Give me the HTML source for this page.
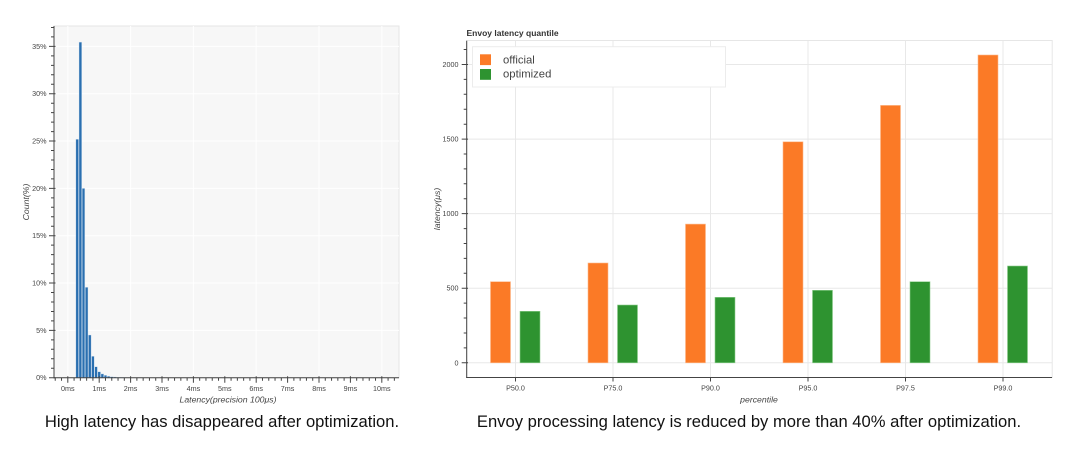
<!DOCTYPE html>
<html><head><meta charset="utf-8">
<style>
html,body{margin:0;padding:0;background:#fff;}
svg{display:block;}
text{font-family:"Liberation Sans",Arial,sans-serif;}
</style></head>
<body>
<svg width="1080" height="458" viewBox="0 0 1080 458" xmlns="http://www.w3.org/2000/svg">
<rect width="1080" height="458" fill="#fff"/>

<!-- ============ LEFT CHART ============ -->
<rect x="54" y="26" width="345" height="351.7" fill="#f7f7f7" stroke="#e6e6e6" stroke-width="1"/>
<!-- grid -->
<g stroke="#ffffff" stroke-width="1">
  <line x1="54" x2="399" y1="330.37" y2="330.37"/>
  <line x1="54" x2="399" y1="283.04" y2="283.04"/>
  <line x1="54" x2="399" y1="235.71" y2="235.71"/>
  <line x1="54" x2="399" y1="188.38" y2="188.38"/>
  <line x1="54" x2="399" y1="141.05" y2="141.05"/>
  <line x1="54" x2="399" y1="93.72" y2="93.72"/>
  <line x1="54" x2="399" y1="46.39" y2="46.39"/>
  <line x1="67.8" x2="67.8" y1="26" y2="377.7"/>
  <line x1="130.6" x2="130.6" y1="26" y2="377.7"/>
  <line x1="193.4" x2="193.4" y1="26" y2="377.7"/>
  <line x1="256.2" x2="256.2" y1="26" y2="377.7"/>
  <line x1="319" x2="319" y1="26" y2="377.7"/>
  <line x1="381.8" x2="381.8" y1="26" y2="377.7"/>
</g>
<!-- bars -->
<g fill="#2a6fb0" stroke="#d6e4f2" stroke-width="0.4">
  <rect x="75.87" y="139.2" width="2.7" height="238.5"/>
  <rect x="79.01" y="42.1" width="2.7" height="335.6"/>
  <rect x="82.15" y="188.4" width="2.7" height="189.3"/>
  <rect x="85.29" y="287.3" width="2.7" height="90.4"/>
  <rect x="88.43" y="335.0" width="2.7" height="42.7"/>
  <rect x="91.57" y="356.3" width="2.7" height="21.4"/>
  <rect x="94.71" y="366.7" width="2.7" height="11.0"/>
  <rect x="97.85" y="371.7" width="2.7" height="6.0"/>
  <rect x="100.99" y="373.9" width="2.7" height="3.8"/>
  <rect x="104.13" y="375.3" width="2.7" height="2.4"/>
  <rect x="107.27" y="376.2" width="2.7" height="1.5"/>
  <rect x="110.41" y="376.7" width="2.7" height="1.0"/>
  <rect x="113.55" y="377.0" width="2.7" height="0.7"/>
  <rect x="116.69" y="377.2" width="2.7" height="0.5"/>
  <rect x="119.83" y="377.35" width="2.7" height="0.35"/>
  <rect x="122.97" y="377.45" width="2.7" height="0.25"/>
</g>
<!-- axes -->
<g stroke="#444" stroke-width="1" fill="none">
  <line x1="54" y1="26" x2="54" y2="378.2"/>
  <line x1="53.5" y1="377.7" x2="399" y2="377.7"/>
  <!-- y major ticks -->
  <path d="M49 377.7H55.5M49 330.37H55.5M49 283.04H55.5M49 235.71H55.5M49 188.38H55.5M49 141.05H55.5M49 93.72H55.5M49 46.39H55.5"/>
  <!-- y minor ticks -->
  <path d="M51 368.23H54M51 358.77H54M51 349.3H54M51 339.84H54M51 320.9H54M51 311.44H54M51 301.97H54M51 292.51H54M51 273.57H54M51 264.11H54M51 254.64H54M51 245.18H54M51 226.24H54M51 216.78H54M51 207.31H54M51 197.85H54M51 178.91H54M51 169.45H54M51 159.98H54M51 150.52H54M51 131.58H54M51 122.12H54M51 112.65H54M51 103.19H54M51 84.25H54M51 74.79H54M51 65.32H54M51 55.86H54M51 36.92H54M51 27.46H54"/>
  <!-- x major ticks -->
  <path d="M67.8 376.2V382.7M99.2 376.2V382.7M130.6 376.2V382.7M162 376.2V382.7M193.4 376.2V382.7M224.8 376.2V382.7M256.2 376.2V382.7M287.6 376.2V382.7M319 376.2V382.7M350.4 376.2V382.7M381.8 376.2V382.7"/>
  <!-- x minor ticks -->
  <path d="M55.24 377.7V380.7M61.52 377.7V380.7M74.08 377.7V380.7M80.36 377.7V380.7M86.64 377.7V380.7M92.92 377.7V380.7M105.48 377.7V380.7M111.76 377.7V380.7M118.04 377.7V380.7M124.32 377.7V380.7M136.88 377.7V380.7M143.16 377.7V380.7M149.44 377.7V380.7M155.72 377.7V380.7M168.28 377.7V380.7M174.56 377.7V380.7M180.84 377.7V380.7M187.12 377.7V380.7M199.68 377.7V380.7M205.96 377.7V380.7M212.24 377.7V380.7M218.52 377.7V380.7M231.08 377.7V380.7M237.36 377.7V380.7M243.64 377.7V380.7M249.92 377.7V380.7M262.48 377.7V380.7M268.76 377.7V380.7M275.04 377.7V380.7M281.32 377.7V380.7M293.88 377.7V380.7M300.16 377.7V380.7M306.44 377.7V380.7M312.72 377.7V380.7M325.28 377.7V380.7M331.56 377.7V380.7M337.84 377.7V380.7M344.12 377.7V380.7M356.68 377.7V380.7M362.96 377.7V380.7M369.24 377.7V380.7M375.52 377.7V380.7M388.08 377.7V380.7M394.36 377.7V380.7"/>
</g>
<!-- y tick labels -->
<g font-size="7.2" fill="#444" text-anchor="end">
  <text x="46.5" y="380.2">0%</text>
  <text x="46.5" y="332.9">5%</text>
  <text x="46.5" y="285.5">10%</text>
  <text x="46.5" y="238.2">15%</text>
  <text x="46.5" y="190.9">20%</text>
  <text x="46.5" y="143.5">25%</text>
  <text x="46.5" y="96.2">30%</text>
  <text x="46.5" y="48.9">35%</text>
</g>
<!-- x tick labels -->
<g font-size="7.2" fill="#444" text-anchor="middle">
  <text x="67.8" y="391">0ms</text>
  <text x="99.2" y="391">1ms</text>
  <text x="130.6" y="391">2ms</text>
  <text x="162" y="391">3ms</text>
  <text x="193.4" y="391">4ms</text>
  <text x="224.8" y="391">5ms</text>
  <text x="256.2" y="391">6ms</text>
  <text x="287.6" y="391">7ms</text>
  <text x="319" y="391">8ms</text>
  <text x="350.4" y="391">9ms</text>
  <text x="381.8" y="391">10ms</text>
</g>
<text x="228" y="402.5" font-size="8.7" font-style="italic" fill="#444" text-anchor="middle">Latency(precision 100μs)</text>
<text transform="translate(29,202) rotate(-90)" font-size="8.7" font-style="italic" fill="#444" text-anchor="middle">Count(%)</text>

<text x="222" y="427" font-size="16.6" fill="#111" text-anchor="middle">High latency has disappeared after optimization.</text>

<!-- ============ RIGHT CHART ============ -->
<text x="466.5" y="36" font-size="8.5" font-weight="bold" fill="#333">Envoy latency quantile</text>
<rect x="466.7" y="40.5" width="585.5" height="337" fill="#fff" stroke="#e6e6e6" stroke-width="1"/>
<g stroke="#e8e8e8" stroke-width="1">
  <line x1="466.7" x2="1052.2" y1="362.8" y2="362.8"/>
  <line x1="466.7" x2="1052.2" y1="288.2" y2="288.2"/>
  <line x1="466.7" x2="1052.2" y1="213.65" y2="213.65"/>
  <line x1="466.7" x2="1052.2" y1="139.1" y2="139.1"/>
  <line x1="466.7" x2="1052.2" y1="64.5" y2="64.5"/>
  <line x1="515.5" x2="515.5" y1="40.5" y2="377.5"/>
  <line x1="613" x2="613" y1="40.5" y2="377.5"/>
  <line x1="710.5" x2="710.5" y1="40.5" y2="377.5"/>
  <line x1="808" x2="808" y1="40.5" y2="377.5"/>
  <line x1="905.5" x2="905.5" y1="40.5" y2="377.5"/>
  <line x1="1003" x2="1003" y1="40.5" y2="377.5"/>
</g>
<!-- bars -->
<g fill="#fb7a26" stroke="#fdb88a" stroke-width="0.6">
  <rect x="490.5" y="281.7" width="20" height="81.1"/>
  <rect x="588" y="263" width="20" height="99.8"/>
  <rect x="685.5" y="224.1" width="20" height="138.7"/>
  <rect x="783" y="141.8" width="20" height="221"/>
  <rect x="880.5" y="105.4" width="20" height="257.4"/>
  <rect x="978" y="55" width="20" height="307.8"/>
</g>
<g fill="#2e9330" stroke="#8fcf8f" stroke-width="0.6">
  <rect x="520" y="311.3" width="20" height="51.5"/>
  <rect x="617.5" y="305" width="20" height="57.8"/>
  <rect x="715" y="297.3" width="20" height="65.5"/>
  <rect x="812.5" y="290.3" width="20" height="72.5"/>
  <rect x="910" y="281.7" width="20" height="81.1"/>
  <rect x="1007.5" y="266" width="20" height="96.8"/>
</g>
<!-- legend -->
<rect x="472.5" y="46.7" width="253" height="40.3" fill="#fff" stroke="#ececec" stroke-width="1"/>
<rect x="480" y="54.3" width="11" height="10.8" fill="#fb7a26"/>
<rect x="480" y="69" width="11" height="10.8" fill="#2e9330"/>
<text x="503" y="63.3" font-size="11.3" fill="#444">official</text>
<text x="503" y="77.6" font-size="11.3" fill="#444">optimized</text>
<!-- axes -->
<g stroke="#444" stroke-width="1" fill="none">
  <line x1="466.7" y1="40.7" x2="466.7" y2="378"/>
  <line x1="466.2" y1="377.5" x2="1052" y2="377.5"/>
  <path d="M461.7 362.8H468M461.7 288.2H468M461.7 213.65H468M461.7 139.1H468M461.7 64.5H468"/>
  <path d="M463.7 347.9H466.7M463.7 333H466.7M463.7 318.06H466.7M463.7 303.14H466.7M463.7 273.3H466.7M463.7 258.4H466.7M463.7 243.5H466.7M463.7 228.57H466.7M463.7 198.7H466.7M463.7 183.8H466.7M463.7 168.9H466.7M463.7 154H466.7M463.7 124.2H466.7M463.7 109.2H466.7M463.7 94.3H466.7M463.7 79.4H466.7M463.7 49.5H466.7"/>
  <path d="M515.5 377.5V381.5M613 377.5V381.5M710.5 377.5V381.5M808 377.5V381.5M905.5 377.5V381.5M1003 377.5V381.5"/>
</g>
<g font-size="7.2" fill="#444" text-anchor="end">
  <text x="458.5" y="365.3">0</text>
  <text x="458.5" y="290.7">500</text>
  <text x="458.5" y="216.2">1000</text>
  <text x="458.5" y="141.6">1500</text>
  <text x="458.5" y="67">2000</text>
</g>
<g font-size="7.2" fill="#444" text-anchor="middle">
  <text x="515.5" y="390.5">P50.0</text>
  <text x="613" y="390.5">P75.0</text>
  <text x="710.5" y="390.5">P90.0</text>
  <text x="808" y="390.5">P95.0</text>
  <text x="905.5" y="390.5">P97.5</text>
  <text x="1003" y="390.5">P99.0</text>
</g>
<text x="759" y="402.5" font-size="8.7" font-style="italic" fill="#444" text-anchor="middle">percentile</text>
<text transform="translate(440,209) rotate(-90)" font-size="8.7" font-style="italic" fill="#444" text-anchor="middle">latency(μs)</text>

<text x="749" y="427" font-size="16.6" fill="#111" text-anchor="middle">Envoy processing latency is reduced by more than 40% after optimization.</text>
</svg>
</body></html>
